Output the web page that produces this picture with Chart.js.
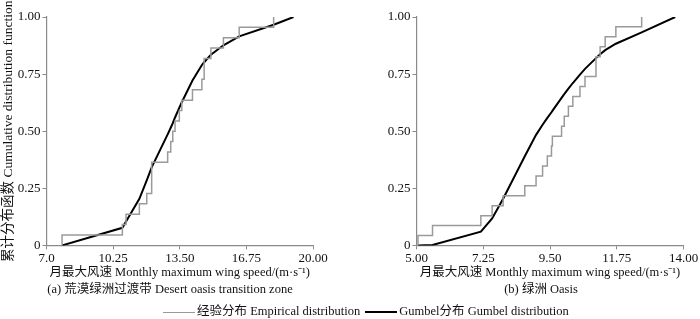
<!DOCTYPE html>
<html>
<head>
<meta charset="utf-8">
<script src="https://cdn.jsdelivr.net/npm/chart.js@4/dist/chart.umd.min.js"></script>
<style>
  body { margin: 0; background: #fff; }
  #wrap { position: relative; width: 700px; height: 319px; overflow: hidden;
          font-family: "Liberation Serif", "Noto Sans CJK SC", serif; color: #111; }
  canvas { position: absolute; top: 0; }
  .cap { position: absolute; font-size: 12.5px; white-space: nowrap; transform: translateX(-50%); }
  .leg { position: absolute; top: 300px; left: 163px; font-size: 12.5px; white-space: nowrap; }
  .leg span.ln { display: inline-block; width: 32px; vertical-align: middle; margin-right: 2px; }
</style>
</head>
<body>
<div id="wrap">
  <canvas id="left" width="350" height="282" style="left:0"></canvas>
  <canvas id="right" width="350" height="282" style="left:350px"></canvas>
  <div class="cap" style="left:170px; top:278px">(a) 荒漠绿洲过渡带 Desert oasis transition zone</div>
  <div class="cap" style="left:541px; top:278px">(b) 绿洲 Oasis</div>
  <div class="leg">
    <span class="ln" style="border-top:1.5px solid #9a9a9a"></span>经验分布 Empirical distribution
    <span class="ln" style="border-top:2px solid #000; margin-left:2px"></span>Gumbel分布 Gumbel distribution
  </div>
</div>
<script>
// (a) desert oasis transition zone
const leftEmpX = [7.76, 7.76, 10.70, 10.88, 11.53, 11.89, 12.13, 12.91, 13.06, 13.16, 13.27, 13.48, 13.60, 14.12, 14.58, 14.69, 15.02, 15.63, 16.40, 18.08];
const leftEmpY = [0, 0.045, 0.091, 0.136, 0.182, 0.227, 0.364, 0.409, 0.455, 0.500, 0.545, 0.591, 0.636, 0.682, 0.727, 0.818, 0.864, 0.909, 0.955, 1.00];
const leftGumX = [7.76, 10.70, 10.88, 11.53, 11.89, 12.13, 12.91, 13.06, 13.16, 13.27, 13.48, 13.60, 14.12, 14.58, 14.69, 15.02, 15.63, 16.40, 18.08, 19.05];
const leftGumY = [0, 0.077, 0.105, 0.204, 0.285, 0.342, 0.486, 0.515, 0.535, 0.56, 0.603, 0.627, 0.722, 0.79, 0.802, 0.835, 0.876, 0.915, 0.966, 1.0];
const leftTicks = [7, 10.25, 13.5, 16.75, 20];
const leftTickLabels = ['7.0', '10.25', '13.50', '16.75', '20.00'];

// (b) oasis
const rightEmpX = [5.05, 5.05, 5.54, 7.17, 7.55, 7.92, 8.65, 9.03, 9.25, 9.41, 9.55, 9.58, 9.89, 9.98, 10.12, 10.27, 10.51, 10.68, 11.05, 11.19, 11.36, 11.72, 12.59];
const rightEmpY = [0, 0.043, 0.087, 0.130, 0.174, 0.217, 0.261, 0.304, 0.348, 0.391, 0.435, 0.478, 0.522, 0.565, 0.609, 0.652, 0.696, 0.739, 0.826, 0.870, 0.913, 0.957, 1.0];
const rightGumX = [5.05, 5.54, 7.17, 7.55, 7.92, 8.65, 9.03, 9.25, 9.41, 9.55, 9.58, 9.89, 9.98, 10.12, 10.27, 10.51, 10.68, 11.05, 11.19, 11.36, 11.72, 12.59, 13.72];
const rightGumY = [0, 0.002, 0.06, 0.118, 0.204, 0.39, 0.484, 0.528, 0.558, 0.583, 0.589, 0.646, 0.662, 0.686, 0.711, 0.748, 0.773, 0.82, 0.837, 0.855, 0.883, 0.933, 1.0];
const rightTicks = [5, 7.25, 9.5, 11.75, 14];
const rightTickLabels = ['5.00', '7.25', '9.50', '11.75', '14.00'];

const yTicks = [0, 0.25, 0.5, 0.75, 1];
const yTickLabels = ['0', '0.25', '0.50', '0.75', '1.00'];

const xTitle = '月最大风速 Monthly maximum wing speed/(m·s⁻¹)';
const yTitle = '累计分布函数 Cumulative distribution function';
const FONT = '"Liberation Serif", "Noto Sans CJK SC", serif';
const AXIS = '#8a8a8a';

function toPoints(xs, ys) {
    return xs.map((x, i) => ({x: x, y: ys[i]}));
}

function makeChart(id, empX, empY, gumX, gumY, ticks, tickLabels, yAxisWidth, padRight, showYTitle) {
    const ctx = document.getElementById(id).getContext('2d');
    return new Chart(ctx, {
        type: 'scatter',
        data: {
            datasets: [
                {
                    label: 'Empirical',
                    data: toPoints(empX, empY),
                    showLine: true,
                    stepped: 'before',
                    borderColor: '#9a9a9a',
                    borderWidth: 1.5,
                    pointRadius: 0,
                },
                {
                    label: 'Gumbel',
                    data: toPoints(gumX, gumY),
                    showLine: true,
                    borderColor: '#000',
                    borderWidth: 2,
                    pointRadius: 0,
                    tension: 0,
                }
            ]
        },
        options: {
            responsive: false,
            animation: false,
            layout: {padding: {left: 0, top: 17, right: padRight, bottom: 0}},
            plugins: {legend: {display: false}, tooltip: {enabled: false}},
            scales: {
                x: {
                    type: 'linear',
                    min: ticks[0],
                    max: ticks[ticks.length - 1],
                    afterBuildTicks: (axis) => { axis.ticks = ticks.map(v => ({value: v})); },
                    ticks: {
                        callback: (v) => tickLabels[ticks.indexOf(v)],
                        font: {family: FONT, size: 13},
                        color: '#111',
                        padding: 1,
                        maxRotation: 0,
                        autoSkip: false,
                    },
                    grid: {drawOnChartArea: false, drawTicks: true, tickLength: 4, color: AXIS},
                    border: {color: AXIS, width: 1.2},
                    title: {display: true, text: xTitle, font: {family: FONT, size: 12.5}, color: '#111', padding: {top: -2, bottom: 2}},
                },
                y: {
                    min: 0,
                    max: 1,
                    afterBuildTicks: (axis) => { axis.ticks = yTicks.map(v => ({value: v})); },
                    afterFit: (axis) => { axis.width = yAxisWidth; },
                    ticks: {
                        callback: (v) => yTickLabels[yTicks.indexOf(v)],
                        font: {family: FONT, size: 13},
                        color: '#111',
                        padding: 2,
                    },
                    grid: {drawOnChartArea: false, drawTicks: true, tickLength: 4, color: AXIS},
                    border: {color: AXIS, width: 1.2},
                    title: {display: showYTitle, text: yTitle, font: {family: FONT, size: 13.5}, color: '#111', padding: 0},
                }
            }
        }
    });
}

makeChart('left', leftEmpX, leftEmpY, leftGumX, leftGumY, leftTicks, leftTickLabels, 46.5, 37, true);
makeChart('right', rightEmpX, rightEmpY, rightGumX, rightGumY, rightTicks, rightTickLabels, 66.5, 16.5, false);
</script>
</body>
</html>
